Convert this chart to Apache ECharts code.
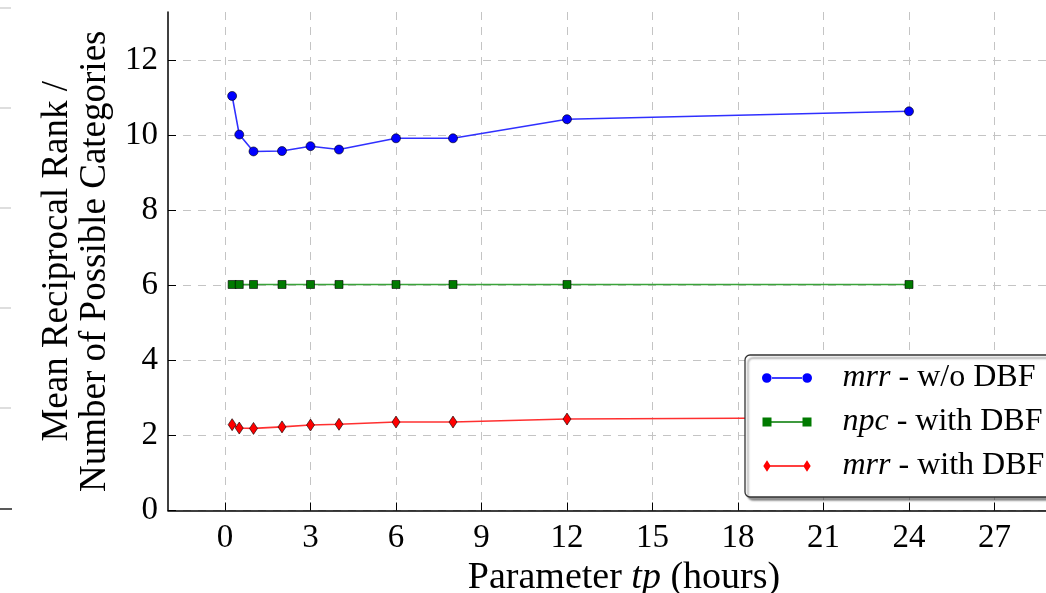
<!DOCTYPE html>
<html>
<head>
<meta charset="utf-8">
<script src="https://cdn.jsdelivr.net/npm/echarts@6/dist/echarts.min.js"></script>
<style>
  html, body { margin: 0; padding: 0; background: #fff; }
  #chart { width: 1046px; height: 593px; }
</style>
</head>
<body>
<div id="chart"></div>
<script>
// parameter tp (hours)
const tp = [0.25, 0.5, 1, 2, 3, 4, 6, 8, 12, 24];
const mrrWithout = [11.06, 10.03, 9.58, 9.59, 9.72, 9.63, 9.93, 9.93, 10.44, 10.65];
const npcWith = [6.03, 6.03, 6.03, 6.03, 6.03, 6.03, 6.03, 6.03, 6.03, 6.03];
const mrrWith = [2.29, 2.2, 2.19, 2.23, 2.28, 2.3, 2.36, 2.36, 2.44, 2.48];
const xTicks = [0, 3, 6, 9, 12, 15, 18, 21, 24, 27];
const yTicks = [0, 2, 4, 6, 8, 10, 12];
const names = ['mrr - w/o DBF', 'npc - with DBF', 'mrr - with DBF'];

const serif = "'Liberation Serif', 'DejaVu Serif', serif";
const pts = ys => tp.map((x, i) => [x, ys[i]]);

// legend icons: line with a marker at both ends (box 0..75 x 0..12)
const pad = 'M75,6L75,6.01M0,0L0,0.01M0,12L0,11.99';
const iconCircle = 'path://M0,6a4.8,4.8 0 1,0 9.6,0a4.8,4.8 0 1,0 -9.6,0ZM9,5.3H41V6.7H9ZM40.4,6a4.8,4.8 0 1,0 9.6,0a4.8,4.8 0 1,0 -9.6,0Z' + pad;
const iconSquare = 'path://M0.5,1.5H9.5V10.5H0.5ZM9,5.3H41V6.7H9ZM40.5,1.5H49.5V10.5H40.5Z' + pad;
const iconDiamond = 'path://M5,0.3L8.7,6L5,11.7L1.3,6ZM8,5.3H42V6.7H8ZM45,0.3L48.7,6L45,11.7L41.3,6Z' + pad;

const gridDash = { color: '#c4c4c4', width: 1, type: [8, 7] };

const chart = echarts.init(document.getElementById('chart'));
chart.setOption({
  animation: false,
  backgroundColor: '#fff',
  grid: { left: 168, top: 12, right: -34, bottom: 82.5, outerBoundsMode: 'none', containLabel: false },
  xAxis: {
    type: 'value',
    min: -2,
    max: 30,
    name: 'Parameter {i|tp} (hours)',
    nameLocation: 'middle',
    nameGap: 43,
    nameTextStyle: {
      fontFamily: serif, fontSize: 38, color: '#000',
      rich: { i: { fontFamily: serif, fontStyle: 'italic', fontSize: 38, color: '#000' } }
    },
    axisLine: { onZero: false, lineStyle: { color: '#000', width: 1.5 } },
    axisTick: { inside: true, length: 8, customValues: xTicks, lineStyle: { color: '#000' } },
    axisLabel: { customValues: xTicks, margin: 11, fontFamily: serif, fontSize: 33, color: '#000' },
    splitLine: { show: true, lineStyle: gridDash }
  },
  yAxis: {
    type: 'value',
    min: 0,
    max: 13.3,
    name: 'Mean Reciprocal Rank /\nNumber of Possible Categories',
    nameLocation: 'middle',
    nameRotate: 90,
    nameGap: 50,
    nameTextStyle: { fontFamily: serif, fontSize: 37, color: '#000', lineHeight: 38 },
    axisLine: { show: true, onZero: false, lineStyle: { color: '#000', width: 1.5 } },
    axisTick: { show: true, inside: true, length: 8, customValues: yTicks, lineStyle: { color: '#000' } },
    axisLabel: { customValues: yTicks, margin: 10, fontFamily: serif, fontSize: 33, color: '#000' },
    splitLine: { show: true, lineStyle: gridDash }
  },
  legend: {
    left: 745,
    top: 355,
    orient: 'vertical',
    itemWidth: 76,
    itemHeight: 12,
    itemGap: 12,
    padding: [7, 20, 15, 17],
    backgroundColor: '#fff',
    borderColor: '#333',
    borderWidth: 1.3,
    borderRadius: 5,
    shadowColor: 'rgba(0,0,0,0.4)',
    shadowBlur: 2,
    shadowOffsetX: 3,
    shadowOffsetY: 3,
    data: [
      { name: names[0], icon: iconCircle, itemStyle: { borderWidth: 0 } },
      { name: names[1], icon: iconSquare, itemStyle: { borderWidth: 0 } },
      { name: names[2], icon: iconDiamond, itemStyle: { borderWidth: 0 } }
    ],
    formatter: function (name) {
      const p = name.split(' - ');
      return '{i|' + p[0] + '} - ' + p[1];
    },
    textStyle: {
      fontFamily: serif, fontSize: 32, color: '#000', lineHeight: 32,
      rich: { i: { fontFamily: serif, fontStyle: 'italic', fontSize: 32, color: '#000' } }
    }
  },
  graphic: [8, 108, 208, 308, 408].map(y => ({
    type: 'line', shape: { x1: 0, y1: y, x2: 11, y2: y },
    style: { stroke: '#c8c8c8', lineWidth: 1.2 }
  })).concat([{
    type: 'line', shape: { x1: 0, y1: 509, x2: 12, y2: 509 },
    style: { stroke: '#222', lineWidth: 1.5 }
  }]),
  series: [
    {
      name: names[0], type: 'line', data: pts(mrrWithout),
      symbol: 'circle', symbolSize: 9,
      itemStyle: { color: '#0000ff', borderColor: '#000', borderWidth: 0.6 },
      lineStyle: { color: '#3030ff', width: 1.6 }
    },
    {
      name: names[1], type: 'line', data: pts(npcWith),
      symbol: 'rect', symbolSize: 8,
      itemStyle: { color: '#007a00', borderColor: '#000', borderWidth: 0.6 },
      lineStyle: { color: '#3aa33a', width: 1.6 }
    },
    {
      name: names[2], type: 'line', data: pts(mrrWith),
      symbol: 'diamond', symbolSize: [8, 12],
      itemStyle: { color: '#ff0000', borderColor: '#000', borderWidth: 0.6 },
      lineStyle: { color: '#ff3030', width: 1.6 }
    }
  ]
});
</script>
</body>
</html>
